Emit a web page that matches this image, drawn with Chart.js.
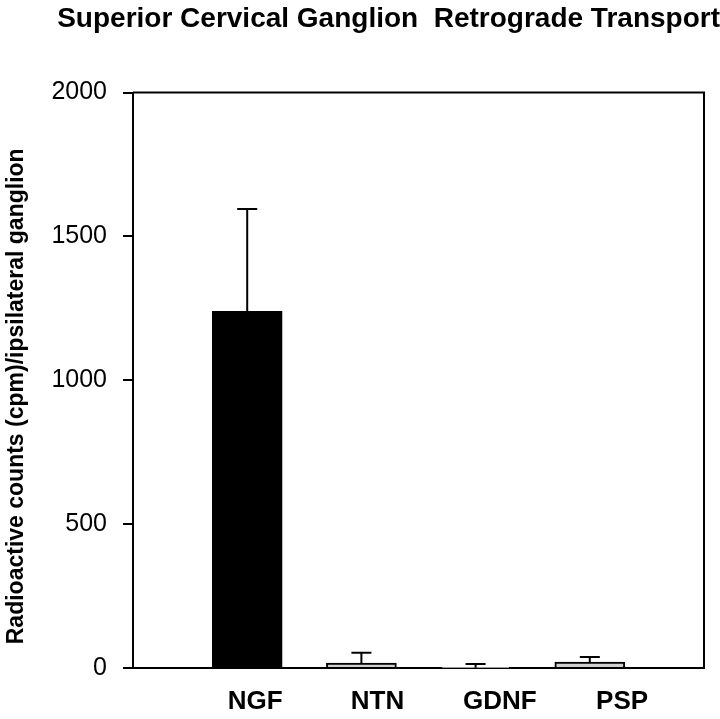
<!DOCTYPE html>
<html>
<head>
<meta charset="utf-8">
<script src="https://cdn.jsdelivr.net/npm/chart.js@4.4.1/dist/chart.umd.min.js"></script>
<style>
  html, body { margin: 0; padding: 0; background: #fff; }
  #wrap { width: 720px; height: 719px; }
</style>
</head>
<body>
<div id="wrap"><canvas id="sgChart" width="720" height="719"></canvas></div>
<script>
// Retrograde transport to the superior cervical ganglion

const categories = ['NGF', 'NTN', 'GDNF', 'PSP'];
const counts = [1240, 17, 1, 21];
const countErrors = [355, 36, 13, 17];
const yTicks = [0, 500, 1000, 1500, 2000];
const yTitle = 'Radioactive counts (cpm)/ipsilateral ganglion';

const barColors = ['#000000', '#d0d0d0', '#d0d0d0', '#d0d0d0'];

// upper error bars only, like the original figure
const errorBarPlugin = {
    id: 'errorBars',
    afterDatasetsDraw(chart) {
        const ctx = chart.ctx;
        const xs = chart.scales.x;
        const ys = chart.scales.y;
        ctx.save();
        ctx.strokeStyle = '#000';
        ctx.lineWidth = 2;
        counts.forEach((v, i) => {
            const x = xs.getPixelForValue(i + 1);
            const y0 = ys.getPixelForValue(v);
            const y1 = ys.getPixelForValue(v + countErrors[i]);
            ctx.beginPath();
            ctx.moveTo(x, y0);
            ctx.lineTo(x, y1);
            ctx.moveTo(x - 10, y1);
            ctx.lineTo(x + 10, y1);
            ctx.stroke();
        });
        ctx.restore();
    }
};

// box around the plot (top and right sides) + y title, sitting a bit low as in the figure
const framePlugin = {
    id: 'frame',
    afterDraw(chart) {
        const a = chart.chartArea;
        const ctx = chart.ctx;
        ctx.save();
        ctx.strokeStyle = '#000';
        ctx.lineWidth = 2;
        ctx.beginPath();
        ctx.moveTo(a.left, a.top);
        ctx.lineTo(a.right, a.top);
        ctx.lineTo(a.right, a.bottom);
        ctx.stroke();

        ctx.translate(17, (a.top + a.bottom) / 2 + 16);
        ctx.rotate(-Math.PI / 2);
        ctx.fillStyle = '#000';
        ctx.font = 'bold 23px "Liberation Sans"';
        ctx.textAlign = 'center';
        ctx.textBaseline = 'middle';
        ctx.fillText(yTitle, 0, 0);
        ctx.restore();
    }
};

const ctx = document.getElementById('sgChart').getContext('2d');
new Chart(ctx, {
    type: 'bar',
    data: {
        datasets: [{
            data: counts.map((v, i) => ({ x: i + 1, y: v })),
            backgroundColor: barColors,
            borderColor: '#000',
            borderWidth: 2,
            barThickness: 70
        }]
    },
    options: {
        responsive: false,
        animation: false,
        layout: { padding: 0 },
        plugins: {
            legend: { display: false },
            tooltip: { enabled: false },
            title: {
                display: true,
                text: 'Superior Cervical Ganglion  Retrograde Transport',
                align: 'end',
                color: '#000',
                font: { family: 'Liberation Sans', size: 28, weight: 'bold' },
                padding: { top: 2, bottom: 57 }
            }
        },
        scales: {
            x: {
                type: 'linear',
                min: 0,
                max: 5,
                offset: false,
                afterFit: s => { s.height = 0; },
                ticks: { display: false },
                grid: { drawOnChartArea: false, drawTicks: false },
                border: { display: true, color: '#000', width: 2 }
            },
            // category names sit a little wider apart than the bars in the original
            xLabels: {
                type: 'linear',
                position: 'bottom',
                min: 0,
                max: 4.67,
                offset: false,
                afterFit: s => { s.height = 51; },
                afterBuildTicks: s => { s.ticks = [1, 2, 3, 4].map(v => ({ value: v })); },
                ticks: {
                    callback: v => categories[v - 1] || '',
                    color: '#000',
                    font: { family: 'Liberation Sans', size: 26, weight: 'bold' },
                    padding: 18,
                    maxRotation: 0
                },
                grid: { display: false, drawTicks: false },
                border: { display: false }
            },
            y: {
                min: 0,
                max: 2000,
                afterFit: s => { s.width = 133; },
                afterBuildTicks: s => { s.ticks = yTicks.map(v => ({ value: v })); },
                ticks: {
                    callback: v => String(v),
                    color: '#000',
                    font: { family: 'Liberation Sans', size: 25 },
                    padding: 16
                },
                grid: { drawOnChartArea: false, drawTicks: true, tickLength: 10, color: '#000', lineWidth: 2 },
                border: { display: true, color: '#000', width: 2 }
            },
            yR: {
                position: 'right',
                display: true,
                afterFit: s => { s.width = 16; },
                ticks: { display: false },
                grid: { display: false },
                border: { display: false }
            }
        }
    },
    plugins: [errorBarPlugin, framePlugin]
});
</script>
</body>
</html>
